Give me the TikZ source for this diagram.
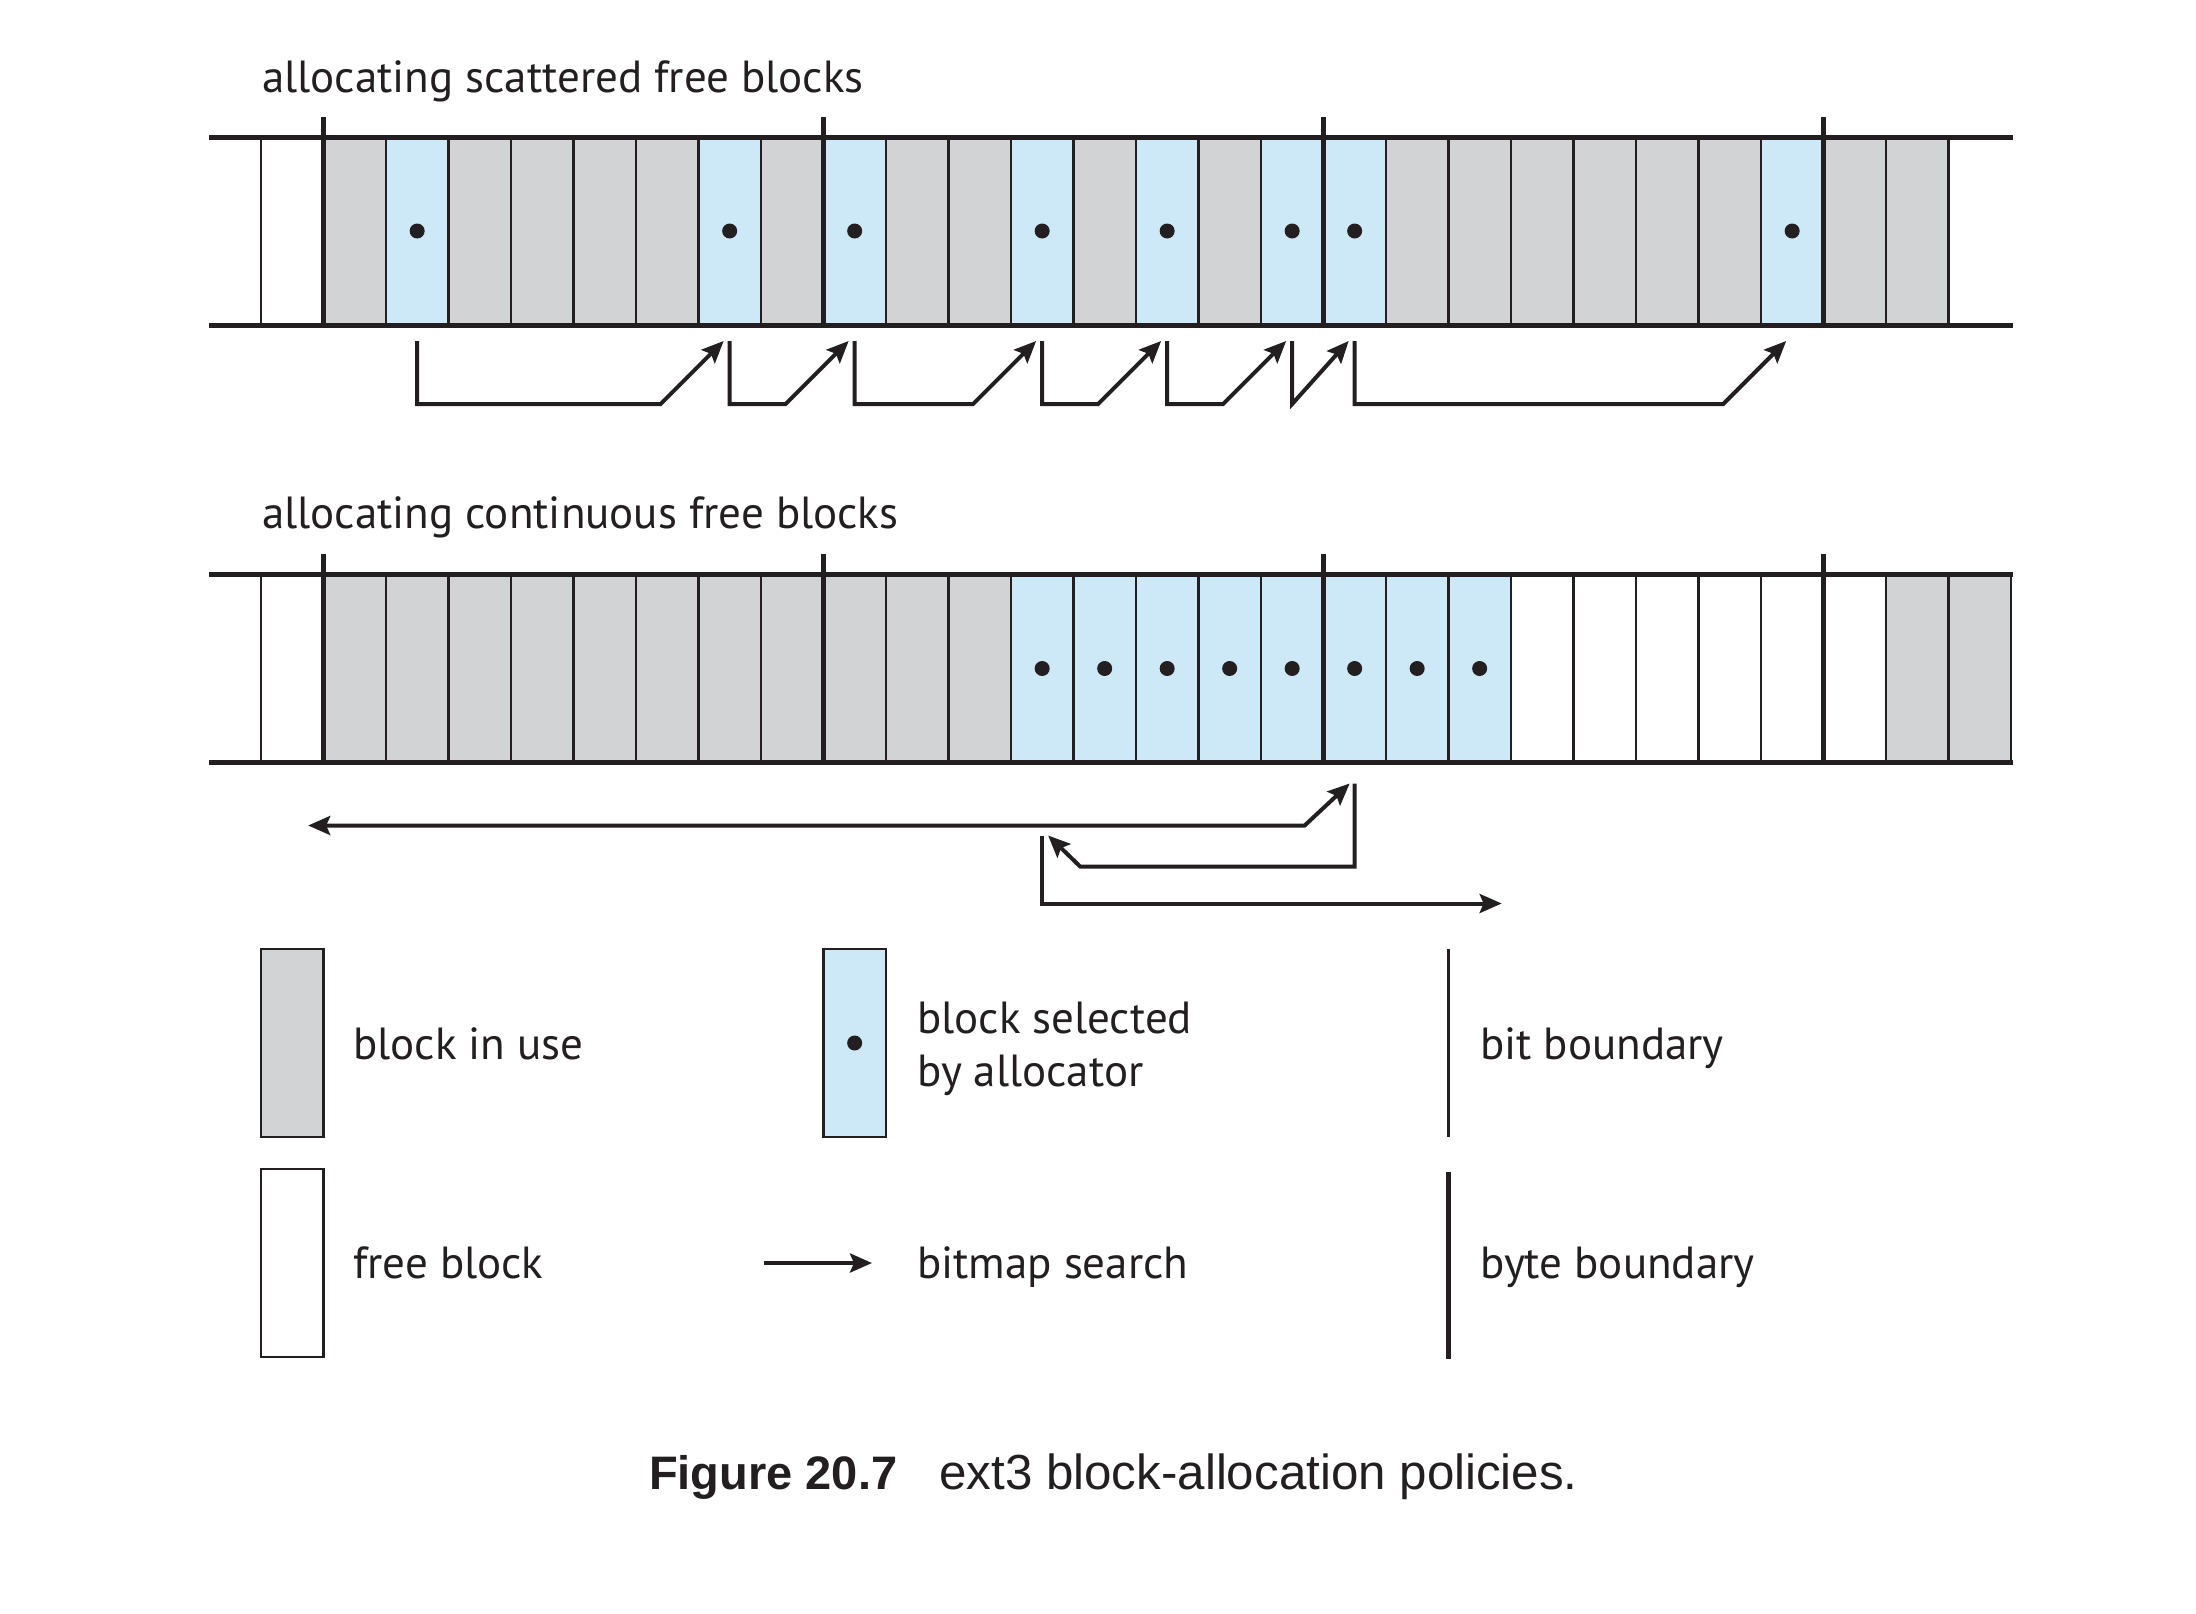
\documentclass[tikz,border=0pt]{standalone}
\usepackage{fontspec}
\setmainfont{PT Sans}
\newfontfamily\capfont{Liberation Sans}
\usetikzlibrary{arrows.meta,calc}
\definecolor{inuse}{HTML}{D1D3D4}
\definecolor{selblue}{HTML}{CDE8F6}
\definecolor{ink}{HTML}{231F20}
\begin{document}
\begin{tikzpicture}[x=1pt,y=-1pt,line join=miter,
  cellbox/.style={draw=ink,line width=2.5pt,minimum width=62.5pt,minimum height=188pt,inner sep=0pt,outer sep=0pt},
  usedcell/.style={cellbox,fill=inuse},
  freecell/.style={cellbox,fill=white},
  selcell/.style={cellbox,fill=selblue},
  rail/.style={draw=ink,line width=5pt},
  bytebound/.style={draw=ink,line width=5pt},
  bitbound/.style={draw=ink,line width=2.5pt},
  searchline/.style={draw=ink,line width=4pt},
  search/.style={searchline,-{Stealth[length=22pt,width=19pt,inset=4pt]}},
  bisearch/.style={searchline,{Stealth[length=22pt,width=19pt,inset=4pt]}-{Stealth[length=22pt,width=19pt,inset=4pt]}},
  dotmark/.style={circle,fill=ink,inner sep=0pt,minimum size=15pt},
  lbl/.style={font=\fontsize{45}{53}\selectfont,inner sep=0pt,anchor=base west,text=ink,align=left},
  capt/.style={font=\capfont\fontsize{49.3}{56}\selectfont,inner sep=0pt,anchor=base west,text=ink}]
\useasboundingbox[fill=white] (0,0) rectangle (2196,1614);

% ---------- headings
\node[lbl] (h1) at (262,92) {allocating scattered free blocks};
\node[lbl] (h2) at (262,528) {allocating continuous free blocks};

% ---------- top strip (scattered)
\node[freecell] (t-1) at ({323.4+62.5*(-0.5)},231) {};
\foreach \k in {0,2,3,4,5,7,9,10,12,14,17,18,19,20,21,22,24,25}
  \node[usedcell] (t\k) at ({323.4+62.5*(\k+0.5)},231) {};
\foreach \k in {1,6,8,11,13,15,16,23}{
  \node[selcell] (t\k) at ({323.4+62.5*(\k+0.5)},231) {};
  \node[dotmark] (td\k) at (t\k.center) {};
}
\draw[rail] (209,137) -- (2013,137);
\draw[rail] (209,325) -- (2013,325);

% ---------- bottom strip (continuous)
\foreach \k in {-1,19,20,21,22,23,24}
  \node[freecell] (b\k) at ({323.4+62.5*(\k+0.5)},668.5) {};
\foreach \k in {0,...,10,25,26}
  \node[usedcell] (b\k) at ({323.4+62.5*(\k+0.5)},668.5) {};
\foreach \k in {11,...,18}{
  \node[selcell] (b\k) at ({323.4+62.5*(\k+0.5)},668.5) {};
  \node[dotmark] (bd\k) at (b\k.center) {};
}
\draw[rail] (209,574.5) -- (2013,574.5);
\draw[rail] (209,762.5) -- (2013,762.5);

% ---------- byte boundaries
\foreach \b in {323.4,823.4,1323.4,1823.4}{
  \draw[bytebound] (\b,117) -- (\b,325);
  \draw[bytebound] (\b,554) -- (\b,762.5);
}

% ---------- scattered search arrows
\foreach \a/\b in {1/6,6/8,8/11,11/13,13/15,16/23}
  \draw[search] ([yshift=-16pt]t\a.south) -- ++(0,63) -- ($(t\b.south)+(-69,79)$) -- ($(t\b.south)+(-6,16)$);
\draw[search] ([yshift=-16pt]t15.south) -- ++(0,63) -- ($(t16.south)+(-6,16)$);

% ---------- continuous search arrows
\draw[bisearch] ($(b-1.south)+(16,63)$) -- ($(b16.south)+(-50,63)$) -- ($(b16.south)+(-5,21)$);
\draw[search] ($(b16.south)+(0,21)$) -- ++(0,83) -- ($(b11.south)+(38,104)$) -- ($(b11.south)+(6,73)$);
\draw[search] ($(b11.south)+(0,73)$) -- ++(0,68) -- ($(b18.south)+(22,141)$);

% ---------- legend
\node[usedcell] (lgused) at (292.15,1043) {};
\node[lbl] (lgusedtxt) at (353,1059) {block in use};
\node[selcell] (lgsel) at (854.65,1043) {};
\node[dotmark] (lgseldot) at (lgsel.center) {};
\node[lbl] (lgseltxt) at (917,1086) {block selected\\by allocator};
\coordinate (bitA) at (1448.4,949);
\coordinate (bitB) at (1448.4,1137);
\draw[bitbound] (bitA) -- (bitB);
\node[lbl] (lgbittxt) at (1480,1059) {bit boundary};

\node[freecell] (lgfree) at (292.15,1263) {};
\node[lbl] (lgfreetxt) at (353,1278) {free block};
\coordinate (bsA) at (764,1263);
\coordinate (bsB) at (872,1263);
\draw[search] (bsA) -- (bsB);
\node[lbl] (lgbstxt) at (917,1278) {bitmap search};
\coordinate (byA) at (1448.4,1172);
\coordinate (byB) at (1448.4,1359);
\draw[bytebound] (byA) -- (byB);
\node[lbl] (lgbytxt) at (1480,1278) {byte boundary};

% ---------- caption
\node[capt] (cap) at (649,1489) {{\fontsize{47}{56}\selectfont\bfseries Figure 20.7}\hspace{42pt}ext3 block-allocation policies.};
\end{tikzpicture}
\end{document}
